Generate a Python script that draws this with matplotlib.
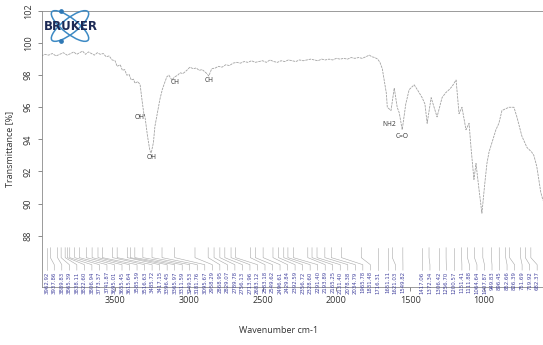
import matplotlib
matplotlib.use("Agg")
import matplotlib.pyplot as plt
from matplotlib.patches import Ellipse

# FTIR spectrum (wavenumber cm-1, transmittance %)
wavenumber = [4000, 3975, 3950, 3925, 3900, 3875, 3850, 3825, 3800, 3780, 3760, 3740,
              3720, 3700, 3680, 3660, 3640, 3620, 3600, 3580, 3560, 3540, 3520, 3500,
              3486, 3465, 3450, 3435, 3420, 3405, 3390, 3375, 3365, 3345, 3330, 3318,
              3305, 3297, 3280, 3264, 3255, 3240, 3230, 3210, 3196, 3180, 3165, 3149,
              3135, 3125, 3115, 3095, 3075, 3060, 3040, 3014, 2993, 2970, 2950, 2930,
              2910, 2890, 2878, 2865, 2845, 2820, 2800, 2775, 2750, 2725, 2700, 2676,
              2650, 2625, 2600, 2575, 2550, 2525, 2500, 2475, 2450, 2425, 2400, 2375,
              2350, 2325, 2300, 2275, 2250, 2225, 2200, 2175, 2150, 2125, 2100, 2075,
              2050, 2025, 2000, 1975, 1950, 1925, 1900, 1875, 1850, 1825, 1800, 1777,
              1760, 1740, 1720, 1705, 1689, 1675, 1662, 1655, 1642, 1630, 1608, 1588,
              1574, 1554, 1530, 1507, 1473, 1445, 1419, 1400, 1385, 1358, 1318, 1284,
              1260, 1236, 1216, 1189, 1169, 1149, 1122, 1101, 1088, 1068, 1054, 1034,
              1014, 995, 980, 966, 919, 899, 878, 831, 797, 777, 743, 709, 676, 662,
              642, 615, 600]
transmittance = [99.2, 99.3, 99.25, 99.35, 99.2, 99.3, 99.4, 99.25, 99.35, 99.45, 99.3, 99.4,
                 99.5, 99.3, 99.45, 99.35, 99.25, 99.4, 99.3, 99.35, 99.15, 99.2, 98.95, 98.9,
                 98.55, 98.65, 98.3, 98.35, 98.0, 98.05, 97.7, 97.75, 97.5, 97.6, 97.4, 96.5,
                 95.6, 95.4, 94.2, 93.3, 93.15, 93.8, 94.8, 95.8, 96.5, 97.1, 97.5, 97.9,
                 98.0, 97.85, 97.7, 97.9, 98.0, 98.15, 98.1, 98.3, 98.5, 98.4, 98.45, 98.3,
                 98.35, 98.2, 98.1, 97.95, 98.4, 98.45, 98.55, 98.5, 98.65, 98.6, 98.75, 98.8,
                 98.75, 98.85, 98.8, 98.9, 98.8, 98.85, 98.9, 98.8, 98.95, 98.85, 98.8, 98.9,
                 98.85, 98.95, 98.9, 98.85, 98.95, 98.9, 98.95, 99.0, 98.95, 98.9, 99.0, 98.95,
                 99.0, 98.95, 99.05, 99.0, 99.05, 99.0, 99.1, 99.05, 99.1, 99.05, 99.15, 99.25,
                 99.15, 99.1, 99.0, 98.8, 98.4, 97.6, 96.9, 96.0, 95.9, 95.8, 97.2, 96.0,
                 95.65, 94.6, 96.2, 97.1, 97.4, 97.0, 96.6, 96.2, 95.0, 96.6, 95.4, 96.6,
                 96.9, 97.1, 97.3, 97.7, 95.6, 96.0, 94.6, 95.0, 93.5, 91.5, 92.5, 90.9,
                 89.4, 91.2, 92.5, 93.2, 94.6, 95.0, 95.8, 96.0, 96.0, 95.4, 94.2, 93.5, 93.2, 93.0,
                 92.3, 90.7, 90.2]

# peak picking labels printed under the spectrum
peak_labels = ["3962.92", "3937.86", "3889.83", "3865.39", "3838.11", "3822.60", "3806.94",
               "3773.37", "3741.87", "3695.01", "3655.45", "3615.64", "3585.59", "3516.63",
               "3485.72", "3417.15", "3396.45", "3365.97", "3311.59", "3249.53", "3181.76",
               "3095.67", "2958.29", "2868.95", "2829.07", "2789.78", "2756.13", "2713.96",
               "2683.12", "2583.18", "2549.62", "2496.61", "2429.84", "2392.59", "2356.72",
               "2328.60", "2291.40", "2193.89", "2165.25", "2131.40", "2078.38", "2034.79",
               "1965.78", "1831.48", "1716.31", "1651.11", "1621.03", "1549.82", "1417.06",
               "1372.34", "1306.42", "1256.70", "1200.57", "1151.41", "1111.88", "1064.64",
               "1007.87", "949.83", "896.45", "852.66", "826.39", "751.69", "719.92", "682.37"]

# band assignments written next to the curve
band_names = ["OH'", "OH", "CH", "CH", "NH2", "C=O"]
band_x = [3331, 3250, 3095, 2865, 1642, 1554]
band_y = [95.34, 92.85, 97.52, 97.7, 94.9, 94.16]

fig = plt.figure(figsize=(5.43, 3.45), dpi=100)
ax = fig.add_axes([42 / 543, 1 - 287 / 345, 501 / 543, 276 / 345])

# spectrum
ax.plot(wavenumber, transmittance, color="#a2a2a2", lw=0.6, dashes=(3, 1))

# band labels
for name, x, y in zip(band_names, band_x, band_y):
    ax.text(x, y, name, fontsize=4.8, color="#333333", ha="center", va="center",
            family="Open Sans")

# peak table: tick at peak, leader line to spread-out label
spacing = 51.0  # minimum distance between labels in cm-1
label_pos = []
for i, lab in enumerate(peak_labels):
    wn = float(lab)
    if i == 0:
        label_pos.append(wn)
    else:
        label_pos.append(min(wn, label_pos[-1] - spacing))

for lab, pos in zip(peak_labels, label_pos):
    wn = float(lab)
    ax.plot([wn, wn, pos, pos], [87.25, 86.63, 86.19, 85.85], color="#a8a8a8", lw=0.4)
    ax.text(pos, 85.78, lab, rotation=90, ha="center", va="top", fontsize=3.9,
            color="#4646a0", family=["Liberation Sans Narrow", "DejaVu Sans"])

ax.set_xlim(3995, 600)
ax.set_ylim(84.8, 102)
ax.set_xticks([3500, 3000, 2500, 2000, 1500, 1000])
ax.set_yticks([88, 90, 92, 94, 96, 98, 100, 102])

for s in ["left", "top", "bottom"]:
    ax.spines[s].set_color("#8a8a8a")
    ax.spines[s].set_linewidth(0.6)
ax.spines["right"].set_visible(False)

ax.tick_params(axis="both", length=3, width=0.6, color="#777777", labelcolor="#333333",
               labelsize=6.5)
for t in ax.get_xticklabels():
    t.set_family("Open Sans")
for t in ax.get_yticklabels():
    t.set_family("Open Sans")
    t.set_rotation(90)
    t.set_va("center")

ax.set_ylabel("Transmittance [%]", fontsize=6.5, color="#333333", family="Open Sans")
ax.set_xlabel("Wavenumber cm-1", fontsize=6.5, color="#333333", family="Open Sans")
ax.yaxis.set_label_coords(-0.056, 0.5)
ax.xaxis.set_label_coords((279 - 42) / 501, -0.14)

# Bruker logo in pixel coordinates
logo = fig.add_axes([0, 0, 1, 1])
logo.set_xlim(0, 543)
logo.set_ylim(345, 0)
logo.axis("off")
logo.patch.set_visible(False)
for ang in [38, -38]:
    logo.add_patch(Ellipse((70, 26), 46, 15, angle=ang, fill=False, ec="#3d8ac4", lw=1.1))
logo.plot([61, 61], [11, 41], "o", ms=2.4, color="#2f78b5")
logo.text(71, 26, "BRUKER", fontsize=8.5, fontweight="bold", color="#1c2a55",
          ha="center", va="center")

fig.savefig("out.png", dpi=100)
